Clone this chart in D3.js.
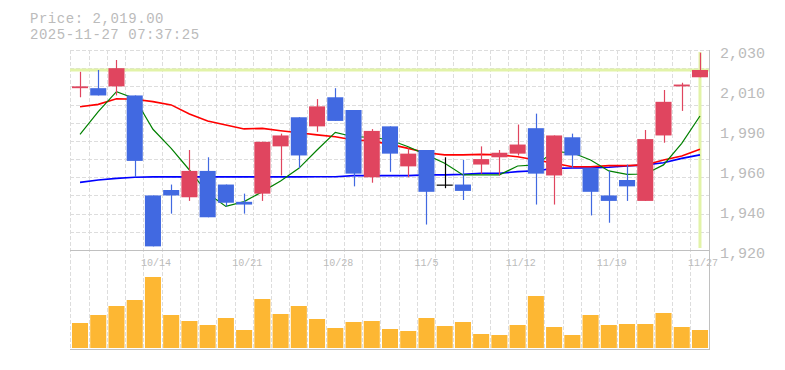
<!DOCTYPE html>
<html><head><meta charset="utf-8">
<script src="https://cdn.jsdelivr.net/npm/d3@7/dist/d3.min.js"></script>
<style>body{margin:0;background:#fff}svg{display:block}</style>
</head><body>
<svg id="chart" width="785" height="370"></svg>
<script>
// ---- data ----
const dates = ["10/7","10/8","10/9","10/10","10/14","10/15","10/16","10/17","10/20","10/21","10/22","10/23","10/24","10/27","10/28","10/29","10/30","10/31","11/4","11/5","11/6","11/7","11/10","11/11","11/12","11/13","11/14","11/17","11/18","11/19","11/20","11/21","11/25","11/26","11/27"];
const openP  = [2009,2009,2010,2005,1950,1953,1949,1963.5,1956,1946.5,1951,1977,1993,1988,2004,1997,1960,1988,1966,1975,1956,1956,1967,1971,1973,1987,1961,1982,1965,1950,1958.5,1947,1983,2010,2015];
const highP  = [2018,2019,2024.5,2005,1950,1956,1975,1971,1956,1951,1979.5,1984,1993,2003,2009,1997,1986.5,1988,1976,1975,1971,1969.5,1977,1975,1989,1995,1983,1984,1965,1963.5,1967,1986,2008,2012,2028.5];
const lowP   = [2004,2005,2005,1960,1922,1940,1947,1938,1944,1940,1947,1961,1965,1985,1991,1955,1957,1963,1960,1934,1954,1947.5,1962,1961,1972,1945,1945,1965,1939,1935,1947,1947,1979,1996.5,2015];
const closeP = [2010,2005,2020,1969,1922,1950,1963.5,1938,1946,1945,1979.5,1983,1972,1999,1991,1962,1985.5,1973,1973,1952,1956,1952.5,1970,1973.5,1978,1962,1983,1972,1952,1947,1955,1981,2001.5,2011,2019];
const volume = [25,33,42,48,71,33,27,23,30,18,49,34,42,29,20,26,27,19,17,30,22,26,14,13,23,52,21,13,33,23,24,24,35,21,18];
const ma5  = [1983.6,1996.1,2007.1,2003.4,1986.4,1975.9,1964,1951.2,1944,1946.6,1952.1,1958,1964.9,1975,1984.7,1982.3,1982,1980.5,1976.8,1972.3,1967.7,1961.3,1961.3,1961.3,1966.2,1966.8,1974.1,1973.5,1969.5,1963.5,1961.6,1961.8,1966.8,1978.7,1993.7];
const ma25 = [1998.8,2000.1,2003.2,2002.9,2001.6,1999.8,1994.8,1991,1988.8,1986.6,1986.9,1985.6,1984.5,1983.3,1982.3,1980.5,1980,1978.1,1975.9,1973.5,1972.3,1972.3,1972.6,1972.3,1971.3,1969.5,1967.7,1965.8,1965.8,1966.4,1966.4,1966.8,1969.5,1971.7,1975.4];
const ma75 = [1957.2,1958.5,1959.4,1960,1960.2,1960.2,1960.2,1960.2,1960.2,1960.2,1960.2,1960.2,1960.2,1960.3,1960.3,1960.9,1960.9,1960.9,1960.9,1961.3,1961.3,1961.6,1962.2,1962.2,1963.1,1963.6,1964.9,1965.1,1965.1,1965.5,1966.2,1966.8,1968,1970.4,1972.3];
const priceTicks = [1920,1942,1964,1986,2008,2030];
const priceTickLabels = ["1,920","1,940","1,960","1,990","2,010","2,030"];
const gridPrices = [1930,1940,1950,1960,1970,1980,1990,2000,2010,2020,2030];
const dateLabels = ["10/14","10/21","10/28","11/5","11/12","11/19","11/27"];
const currentPrice = 2019;
const titleLines = ["Price: 2,019.00","2025-11-27 07:37:25"];

// ---- setup ----
const svg = d3.select("#chart");
const FONT = "'Liberation Mono','DejaVu Sans Mono',monospace";
const TXT = "#bbbbbb", GRID = "#dddddd", FRAME = "#c0c0c0";
const UP = "#e0455f", DOWN = "#4169e1", VOL = "#fdb733", HL = "#e2f3a8";

const x = d3.scaleBand().domain(dates).range([70.9, 709.1]).padding(0);
const bw = x.bandwidth() * 0.88;
const cx = d => x(d) + x.bandwidth() / 2;
const y = d3.scaleLinear().domain([1920, 2030]).range([250, 50]);
const yv = d3.scaleLinear().domain([0, 80]).range([348, 268]);

const idx = d3.range(dates.length);

// title
svg.selectAll("text.title").data(titleLines).join("text").attr("class","title")
  .attr("x", 30).attr("y", (d,i) => 22.5 + i * 16)
  .attr("font-family", FONT).attr("font-size", 14).attr("fill", TXT)
  .attr("textLength", d => d.length * 8.9).attr("lengthAdjust", "spacing").text(d => d);

// grid
const grid = svg.append("g").attr("stroke", GRID).attr("stroke-dasharray", "4,2").attr("stroke-width", 1);
grid.selectAll("line.v").data(dates).join("line").attr("class","v")
  .attr("x1", d => Math.floor(x(d)) + 0.5).attr("x2", d => Math.floor(x(d)) + 0.5)
  .attr("y1", 50).attr("y2", 350);
grid.selectAll("line.h").data(gridPrices).join("line").attr("class","h")
  .attr("x1", 70).attr("x2", 709).attr("y1", d => Math.round(y(d)) + 0.5).attr("y2", d => Math.round(y(d)) + 0.5);

// frame
const fr = svg.append("g").attr("stroke", FRAME).attr("stroke-width", 1);
fr.append("line").attr("x1", 70).attr("x2", 710).attr("y1", y(1920) + 0.5).attr("y2", y(1920) + 0.5);
fr.append("line").attr("x1", 70).attr("x2", 710).attr("y1", yv(0) + 1.5).attr("y2", yv(0) + 1.5);
fr.append("line").attr("x1", 709.5).attr("x2", 709.5).attr("y1", 50).attr("y2", yv(0) + 2);

// highlight current price
svg.append("line").attr("x1", 70).attr("x2", 709).attr("y1", y(currentPrice)).attr("y2", y(currentPrice))
  .attr("stroke", HL).attr("stroke-width", 3);
const last = dates[dates.length - 1];
svg.append("line").attr("x1", cx(last)).attr("x2", cx(last)).attr("y1", 52).attr("y2", 248)
  .attr("stroke", HL).attr("stroke-width", 3);

// right axis
const ax = svg.append("g").attr("transform", "translate(710,0)")
  .call(d3.axisRight(y).tickValues(priceTicks).tickSize(0).tickPadding(10)
    .tickFormat((d,i) => priceTickLabels[i]));
ax.select(".domain").remove();
ax.selectAll("text").attr("font-family", FONT).attr("font-size", 15).attr("fill", TXT).attr("dy", "0.53em");

// date labels
svg.selectAll("text.date").data(dateLabels).join("text").attr("class","date")
  .attr("x", d => cx(d) - 12).attr("y", 266)
  .attr("font-family", FONT).attr("font-size", 10).attr("fill", TXT).text(d => d);

// moving averages
const line = arr => d3.line().x((d,i) => cx(dates[i])).y(d => y(d))(arr);
[[ma75, "#0000ff", 1.6], [ma25, "#ff0000", 1.6], [ma5, "#008000", 1.2]].forEach(([arr, col, w]) => {
  svg.append("path").attr("d", line(arr)).attr("fill", "none").attr("stroke", col).attr("stroke-width", w);
});

// candles
const colorOf = i => closeP[i] > openP[i] ? UP : (closeP[i] < openP[i] ? DOWN : "#000");
const cg = svg.append("g");
cg.selectAll("line.wick").data(idx).join("line").attr("class","wick")
  .attr("x1", i => Math.round(cx(dates[i])) + 0.5).attr("x2", i => Math.round(cx(dates[i])) + 0.5)
  .attr("y1", i => y(highP[i])).attr("y2", i => y(lowP[i]))
  .attr("stroke", colorOf).attr("stroke-width", 1.2);
cg.selectAll("rect.body").data(idx).join("rect").attr("class","body")
  .attr("x", i => cx(dates[i]) - bw / 2).attr("width", bw)
  .attr("y", i => y(Math.max(openP[i], closeP[i])))
  .attr("height", i => Math.max(1.2, Math.abs(y(openP[i]) - y(closeP[i]))))
  .attr("fill", colorOf);

// volume
svg.selectAll("rect.vol").data(idx).join("rect").attr("class","vol")
  .attr("x", i => cx(dates[i]) - bw / 2).attr("width", bw)
  .attr("y", i => yv(volume[i])).attr("height", i => yv(0) - yv(volume[i]))
  .attr("fill", VOL);
</script>
</body></html>
